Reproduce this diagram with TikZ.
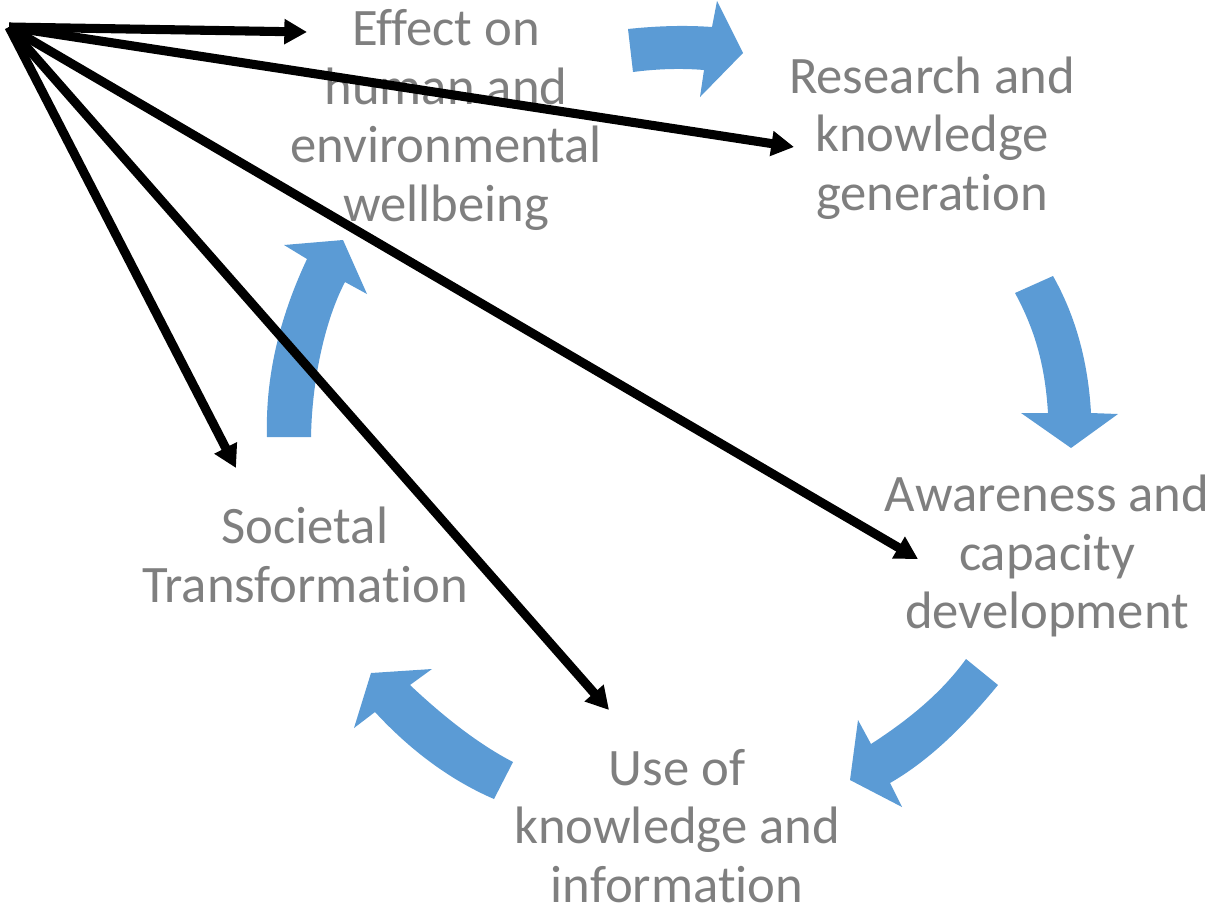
\documentclass[tikz,border=0pt]{standalone}
\usepackage{fontspec}
\setmainfont{Carlito}[Ligatures=CommonOff]
\usetikzlibrary{arrows.meta}
\definecolor{txtgray}{RGB}{127,127,127}
\definecolor{cycblue}{RGB}{91,155,213}
\tikzset{
  lbl/.style={align=center, text=txtgray, inner sep=0pt, font=\fontsize{39.5}{43.8}\selectfont},
  cyc/.style={fill=cycblue, draw=none},
  link/.style={draw=black, line width=6.8pt, -{Triangle[length=17pt,width=18pt]}}
}
\begin{document}
\begin{tikzpicture}[x=0.75pt,y=-0.75pt]
\useasboundingbox (0,0) rectangle (1212,904);
% labels
\node[lbl] (effect) at (446,120) {Effect on\\human and\\environmental\\wellbeing};
\node[lbl] (research) at (932,138) {Research and\\knowledge\\generation};
\node[lbl] (awareness) at (1047,556) {Awareness and\\capacity\\development};
\node[lbl] (use) at (677,826) {Use of\\knowledge and\\information};
\node[lbl] (societal) at (305,555) {Societal\\Transformation};
% cycle arrows
\fill[cyc] (628,29) .. controls (656,26) and (684,25) .. (712,27) -- (717,1) -- (743,53) -- (700,97) -- (704,70) .. controls (680,68) and (656,69) .. (633,72) -- cycle;
\fill[cyc] (1015,293) -- (1053,276) .. controls (1075,315) and (1088,360) .. (1091,413) -- (1118,414) -- (1071,448) -- (1021,413) -- (1048,413) .. controls (1045,365) and (1035,330) .. (1015,293) -- cycle;
\fill[cyc] (966,659) -- (998,685) .. controls (965,725) and (930,760) .. (890,783) -- (902,807) -- (850,780) -- (858,720) -- (871,744) .. controls (905,722) and (940,695) .. (966,659) -- cycle;
\fill[cyc] (513,762) -- (494,799) .. controls (450,780) and (410,750) .. (375,712) -- (354,728) -- (371,673) -- (432,669) -- (410,685) .. controls (445,718) and (480,745) .. (513,762) -- cycle;
\fill[cyc] (267,437) .. controls (265,370) and (283,310) .. (307,259) -- (284,245) -- (343,240) -- (367,294) -- (345,282) .. controls (325,320) and (312,380) .. (311,437) -- cycle;
% link arrows
\coordinate (o) at (9,27);
\coordinate (t1) at (307,32);
\coordinate (t2) at (794,147);
\coordinate (t3) at (918,559);
\coordinate (t4) at (609,710);
\coordinate (t5) at (236,468);
\draw[link] (o) -- (t1);
\draw[link] (o) -- (t2);
\draw[link] (o) -- (t3);
\draw[link] (o) -- (t4);
\draw[link] (o) -- (t5);
\end{tikzpicture}
\end{document}
